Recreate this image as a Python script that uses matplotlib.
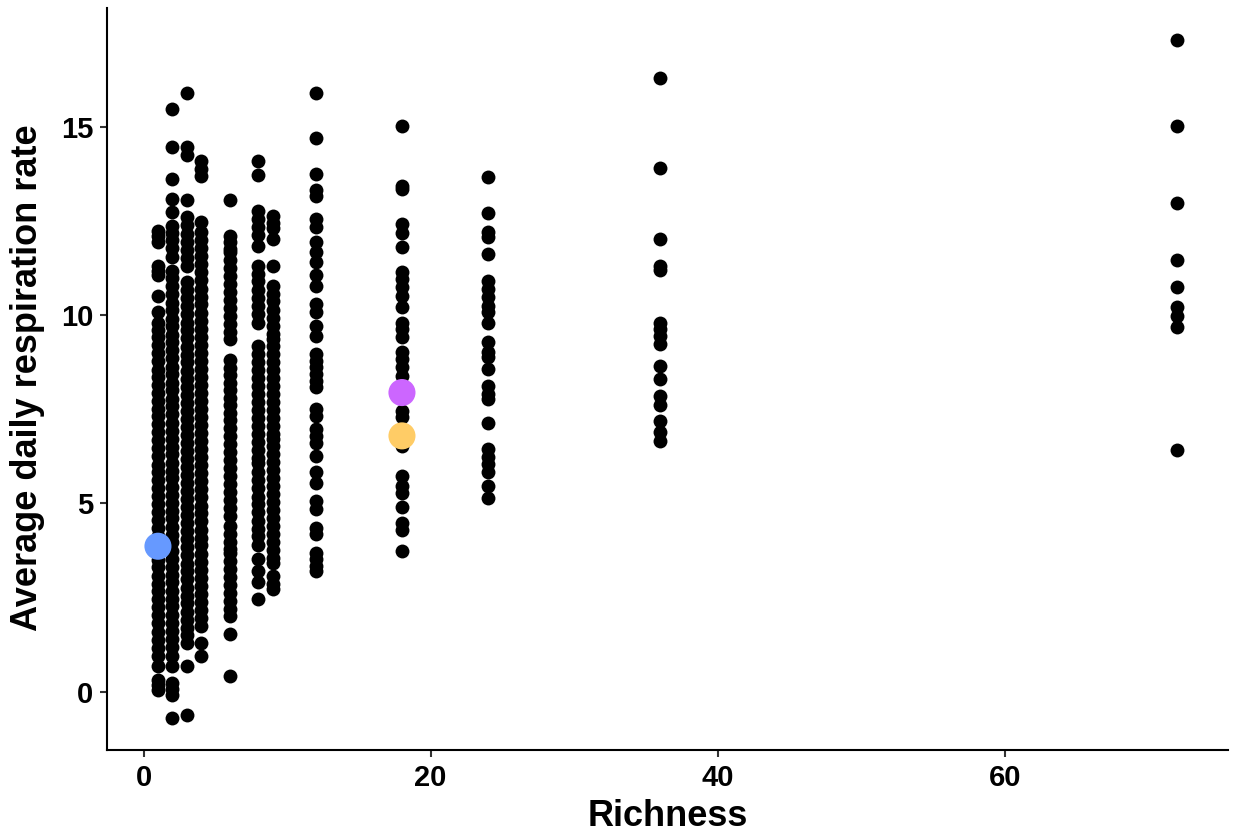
import numpy as np
import matplotlib
matplotlib.use("Agg")
import matplotlib.pyplot as plt

# richness levels and respiration values
r1 = [12.24, 12.1, 11.94, 11.31, 11.18, 11.05, 10.51, 10.07, 9.8, 9.6, 9.41, 9.2, 8.98, 8.77, 8.55,
      8.36, 8.14, 7.93, 7.72, 7.5, 7.31, 7.1, 6.88, 6.67, 6.47, 6.25, 6.02, 5.83, 5.61, 5.4, 5.19,
      4.97, 4.77, 4.56, 4.35, 4.14, 3.92, 3.71, 3.5, 3.3, 3.08, 2.87, 2.66, 2.45, 2.24, 2.03, 1.83,
      1.57, 1.36, 1.15, 0.94, 0.67, 0.32, 0.18, 0.05]
r2 = [15.48, 14.46, 13.62, 13.07, 12.73, 12.37, 12.18, 11.98, 11.77, 11.55, 11.18, 10.97, 10.76,
      10.55, 10.33, 10.12, 9.9, 9.7, 9.48, 9.27, 9.06, 8.85, 8.63, 8.42, 8.2, 8.0, 7.78, 7.57, 7.36,
      7.14, 6.93, 6.72, 6.5, 6.3, 6.08, 5.87, 5.66, 5.44, 5.23, 5.02, 4.8, 4.6, 4.38, 4.17, 3.96,
      3.74, 3.53, 3.32, 3.1, 2.9, 2.68, 2.47, 2.26, 2.04, 1.83, 1.62, 1.4, 1.19, 0.94, 0.67, 0.24,
      0.08, -0.08, -0.70]
r3 = [15.88, 14.46, 14.24, 13.04, 12.6, 12.38, 12.16, 11.95, 11.73, 11.52, 11.31, 10.87, 10.66,
      10.44, 10.23, 10.02, 9.8, 9.59, 9.38, 9.16, 8.95, 8.74, 8.52, 8.31, 8.1, 7.88, 7.67, 7.46,
      7.24, 7.03, 6.82, 6.6, 6.39, 6.18, 5.96, 5.75, 5.54, 5.32, 5.11, 4.9, 4.68, 4.47, 4.26, 4.04,
      3.83, 3.62, 3.4, 3.19, 2.98, 2.76, 2.55, 2.34, 2.12, 1.91, 1.7, 1.49, 1.29, 0.67, -0.61]
r4 = [14.1, 13.88, 13.7, 12.48, 12.2, 11.98, 11.77, 11.56, 11.34, 11.13, 10.92, 10.7, 10.49, 10.28,
      10.06, 9.85, 9.64, 9.42, 9.21, 9.0, 8.78, 8.57, 8.36, 8.14, 7.93, 7.72, 7.5, 7.29, 7.08, 6.86,
      6.65, 6.44, 6.22, 6.01, 5.8, 5.58, 5.37, 5.16, 4.94, 4.73, 4.52, 4.3, 4.09, 3.88, 3.66, 3.45,
      3.24, 3.02, 2.81, 2.6, 2.38, 2.17, 1.96, 1.74, 1.29, 0.94]
r6 = [13.04, 12.1, 11.94, 11.76, 11.67, 11.46, 11.25, 11.03, 10.82, 10.61, 10.39, 10.18, 9.97,
      9.75, 9.54, 9.36, 8.8, 8.6, 8.4, 8.2, 8.0, 7.8, 7.6, 7.4, 7.22, 7.0, 6.79, 6.58, 6.36, 6.15,
      5.94, 5.72, 5.51, 5.3, 5.08, 4.87, 4.66, 4.4, 4.19, 3.98, 3.78, 3.69, 3.48, 3.26, 3.05, 2.84,
      2.62, 2.41, 2.2, 2.0, 1.52, 0.41]
r8 = [14.08, 13.71, 12.77, 12.55, 12.33, 12.11, 11.84, 11.31, 11.1, 10.89, 10.67, 10.46, 10.25,
      10.03, 9.8, 9.18, 8.97, 8.75, 8.54, 8.33, 8.11, 7.9, 7.69, 7.47, 7.26, 7.05, 6.83, 6.62, 6.41,
      6.2, 6.08, 5.82, 5.61, 5.4, 5.18, 4.97, 4.76, 4.54, 4.33, 4.12, 3.9, 3.51, 3.2, 2.9, 2.45]
r9 = [12.64, 12.45, 12.3, 12.02, 11.31, 10.78, 10.57, 10.36, 10.14, 9.93, 9.72, 9.5, 9.36, 9.18,
      8.97, 8.75, 8.54, 8.33, 8.11, 7.9, 7.69, 7.47, 7.26, 7.05, 6.83, 6.7, 6.52, 6.31, 6.1, 5.88,
      5.67, 5.46, 5.24, 5.03, 4.82, 4.6, 4.39, 4.18, 3.96, 3.75, 3.54, 3.42, 3.07, 2.85, 2.72]
r12 = [15.88, 14.7, 13.75, 13.31, 13.17, 12.55, 12.33, 11.93, 11.67, 11.4, 11.05, 10.78, 10.29,
       10.07, 9.72, 9.45, 8.96, 8.79, 8.61, 8.43, 8.25, 8.08, 7.5, 7.32, 6.97, 6.79, 6.61, 6.26,
       5.82, 5.55, 5.06, 4.84, 4.35, 4.18, 3.69, 3.51, 3.33, 3.2]
r18 = [15.02, 13.42, 13.35, 12.42, 12.18, 11.8, 11.15, 10.96, 10.74, 10.51, 10.2, 9.8, 9.63, 9.41,
       9.01, 8.83, 8.61, 8.39, 7.94, 7.45, 7.28, 6.79, 6.52, 5.73, 5.46, 5.28, 4.91, 4.49, 4.29,
       3.73]
r24 = [13.66, 12.72, 12.2, 12.08, 11.62, 10.91, 10.69, 10.47, 10.25, 10.07, 9.8, 9.27, 9.01, 8.88,
       8.56, 8.12, 7.9, 7.77, 7.13, 6.44, 6.22, 6.04, 5.82, 5.46, 5.15]
r36 = [16.28, 13.91, 12.01, 11.3, 11.2, 9.8, 9.63, 9.45, 9.23, 8.65, 8.3, 7.85, 7.6, 7.18, 6.9, 6.65]
r72 = [17.3, 15.01, 12.97, 11.46, 10.75, 10.2, 9.98, 9.67, 6.41]

groups = {1: r1, 2: r2, 3: r3, 4: r4, 6: r6, 8: r8, 9: r9, 12: r12, 18: r18, 24: r24, 36: r36, 72: r72}

# highlighted communities
hl_x = [1, 18, 18]
hl_y = [3.86, 7.94, 6.79]
hl_colors = ["#6699FF", "#CC66FF", "#FFCC66"]

plt.rcParams['font.family'] = ['Liberation Sans', 'DejaVu Sans']
plt.rcParams['font.weight'] = 'bold'

fig = plt.figure(figsize=(12.35, 8.35), dpi=100)
ax = fig.add_axes([107 / 1235, 85 / 835, 1121 / 1235, 742 / 835])

xs = np.concatenate([[k] * len(v) for k, v in groups.items()])
ys = np.concatenate([v for v in groups.values()])
ax.scatter(xs, ys, s=100, color="black", linewidths=0, zorder=2)
ax.scatter(hl_x, hl_y, s=380, color=hl_colors, linewidths=0, zorder=3)

ax.set_xlim(-2.55, 75.55)
ax.set_ylim(-1.55, 18.15)
ax.set_xticks([0, 20, 40, 60])
ax.set_yticks([0, 5, 10, 15])

for side in ["top", "right"]:
    ax.spines[side].set_visible(False)
for side in ["left", "bottom"]:
    ax.spines[side].set_linewidth(1.5)
    ax.spines[side].set_color("black")

ax.tick_params(axis="both", length=5, width=1.5, color="#333333", labelsize=21, pad=5,
               labelcolor="black")
for lab in ax.get_xticklabels() + ax.get_yticklabels():
    lab.set_fontweight("bold")

# axis titles placed to match the reference
fig.text(667.5 / 1235, 9 / 835, "Richness", fontsize=26, fontweight="bold",
         ha="center", va="baseline")
fig.text(28 / 1235, 1 - 378 / 835, "Average daily respiration rate", fontsize=26,
         fontweight="bold", rotation=90, ha="center", va="center")

fig.savefig("out.png", dpi=100)
